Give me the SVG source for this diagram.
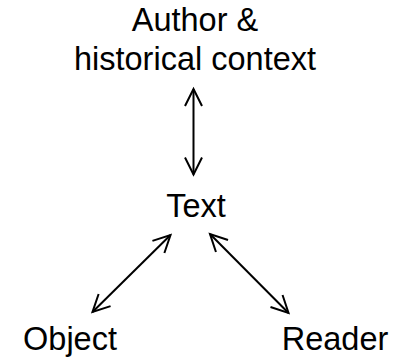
<svg xmlns="http://www.w3.org/2000/svg" width="406" height="364" viewBox="0 0 406 364">
<style>
text{font-family:"Liberation Sans",Arial,sans-serif;font-size:32.5px;fill:#000;text-anchor:middle}
.c{stroke:#000;stroke-width:2;fill:none}
</style>
<defs>
<marker id="ah" markerUnits="userSpaceOnUse" markerWidth="40" markerHeight="40" refX="0" refY="0" viewBox="-20 -20 40 40" orient="auto-start-reverse" overflow="visible">
<path d="M-17,-8.5 L0,0 L-17,8.5" fill="none" stroke="#000" stroke-width="2"/>
</marker>
</defs>
<rect width="406" height="364" fill="#fff"/>
<g id="connectors">
<line class="c" x1="193.5" y1="89" x2="193.5" y2="174.5" marker-start="url(#ah)" marker-end="url(#ah)"/>
<line class="c" x1="170.5" y1="235" x2="92.5" y2="312" marker-start="url(#ah)" marker-end="url(#ah)"/>
<line class="c" x1="210" y1="234" x2="288.5" y2="313" marker-start="url(#ah)" marker-end="url(#ah)"/>
</g>
<g id="author"><text x="195" y="31">Author &amp;</text><text x="195" y="70">historical context</text></g>
<g id="text"><text x="196" y="217">Text</text></g>
<g id="object"><text x="70" y="350">Object</text></g>
<g id="reader"><text x="335" y="350">Reader</text></g>
</svg>
